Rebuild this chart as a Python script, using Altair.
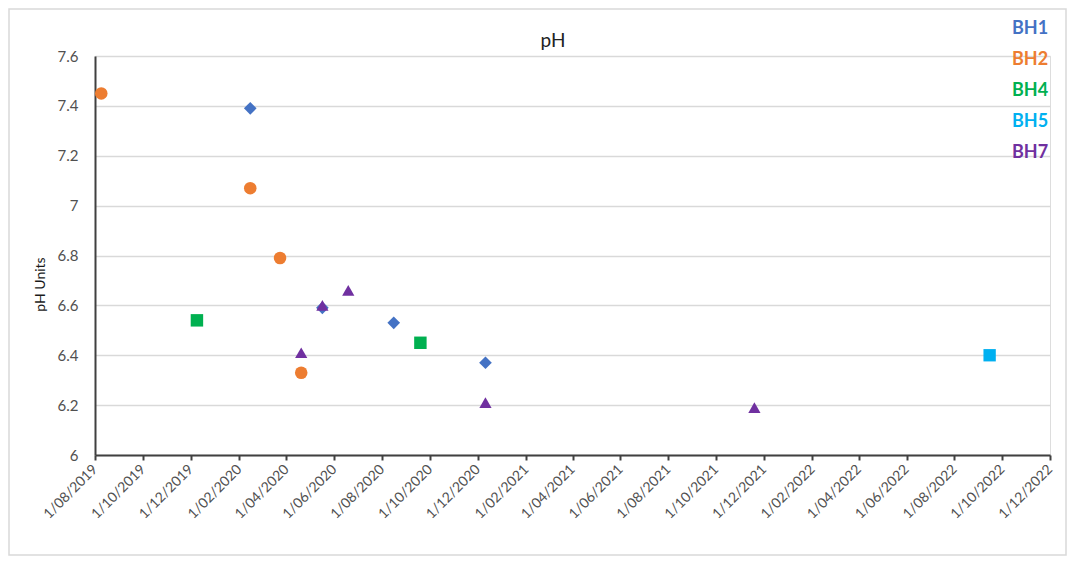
import altair as alt
import pandas as pd

series = ["BH2", "BH1", "BH2", "BH2", "BH4", "BH7", "BH2", "BH1", "BH7", "BH7",
          "BH1", "BH4", "BH1", "BH7", "BH7", "BH5"]
dates = ["2019-08-09", "2020-02-15", "2020-02-15", "2020-03-24", "2019-12-09", "2020-04-20",
         "2020-04-20", "2020-05-17", "2020-05-17", "2020-06-19", "2020-08-16", "2020-09-19",
         "2020-12-11", "2020-12-11", "2021-11-19", "2022-09-15"]
ph = [7.45, 7.39, 7.07, 6.79, 6.54, 6.41, 6.33, 6.59, 6.60, 6.66, 6.53, 6.45, 6.37, 6.21, 6.19, 6.40]

legend_names = ["BH1", "BH2", "BH4", "BH5", "BH7"]
legend_colors = ["#4472C4", "#ED7D31", "#00B050", "#00B0F0", "#7030A0"]
legend_shapes = ["diamond", "circle", "square", "square", "triangle-up"]

tick_dates = [(2019, 8), (2019, 10), (2019, 12), (2020, 2), (2020, 4), (2020, 6), (2020, 8),
              (2020, 10), (2020, 12), (2021, 2), (2021, 4), (2021, 6), (2021, 8), (2021, 10),
              (2021, 12), (2022, 2), (2022, 4), (2022, 6), (2022, 8), (2022, 10), (2022, 12)]
y_ticks = [6, 6.2, 6.4, 6.6, 6.8, 7, 7.2, 7.4, 7.6]
chart_title = ["pH"]

df = pd.DataFrame({"Series": series, "Date": [d + "T00:00:00" for d in dates], "pH": ph})
legend_df = pd.DataFrame({"Series": legend_names})
title_df = pd.DataFrame({"t": chart_title})

FONT = "Lato"
tick_vals = [alt.DateTime(year=y, month=m, date=1) for y, m in tick_dates]
color_scale = alt.Scale(domain=legend_names, range=legend_colors)

points = alt.Chart(df).mark_point(filled=True, opacity=1).encode(
    x=alt.X("Date:T",
            scale=alt.Scale(domain=[tick_vals[0], tick_vals[-1]]),
            axis=alt.Axis(values=tick_vals, format="%-d/%m/%Y", formatType="time",
                          labelAngle=-45, labelAlign="right", labelBaseline="middle",
                          labelPadding=7, tickSize=5, tickColor="#404040", tickWidth=2,
                          domainColor="#404040", domainWidth=2, grid=False, title=None,
                          labelFont=FONT, labelFontSize=14, labelColor="#505050",
                          labelOverlap=False)),
    y=alt.Y("pH:Q",
            scale=alt.Scale(domain=[6, 7.6], nice=False, zero=False),
            axis=alt.Axis(values=y_ticks, ticks=False, labelPadding=17, format=".1~f",
                          domainColor="#404040", domainWidth=2,
                          gridColor="#D9D9D9", gridWidth=1.5,
                          labelFont=FONT, labelFontSize=15, labelColor="#505050",
                          title="pH Units", titleFont=FONT, titleFontSize=14,
                          titleFontWeight="normal", titleColor="#1a1a1a",
                          titleX=-48, titleY=228)),
    color=alt.Color("Series:N", scale=color_scale, legend=None),
    shape=alt.Shape("Series:N",
                    scale=alt.Scale(domain=legend_names, range=legend_shapes),
                    legend=None),
    size=alt.Size("Series:N",
                  scale=alt.Scale(domain=legend_names, range=[160, 150, 160, 160, 140]),
                  legend=None),
)

legend = alt.Chart(legend_df).mark_text(
    align="left", baseline="middle", font=FONT, fontSize=18, fontWeight="bold").encode(
    x=alt.value(917),
    y=alt.Y("Series:N", sort=legend_names,
            scale=alt.Scale(type="point", domain=legend_names, range=[-27, 97], padding=0),
            axis=None),
    text="Series:N",
    color=alt.Color("Series:N", scale=color_scale, legend=None),
)

title = alt.Chart(title_df).mark_text(
    align="center", baseline="middle", font=FONT, fontSize=19, color="#222222").encode(
    x=alt.value(458), y=alt.value(-15), text="t:N")

border = alt.Chart(alt.Data(values=[{"a": 1}])).mark_rect(
    fill=None, stroke="#D9D9D9", strokeWidth=1.5).encode(
    x=alt.value(-86), x2=alt.value(971), y=alt.value(-47), y2=alt.value(499))

chart = alt.layer(border, points, legend, title).resolve_scale(y="independent").properties(
    width=955, height=399,
    autosize=alt.AutoSizeParams(type="none"),
    padding={"left": 87, "top": 48, "right": 18, "bottom": 101},
).configure_view(stroke=None).configure(background="white")

chart.save("out.html", embed_options={"renderer": "svg", "actions": False})
